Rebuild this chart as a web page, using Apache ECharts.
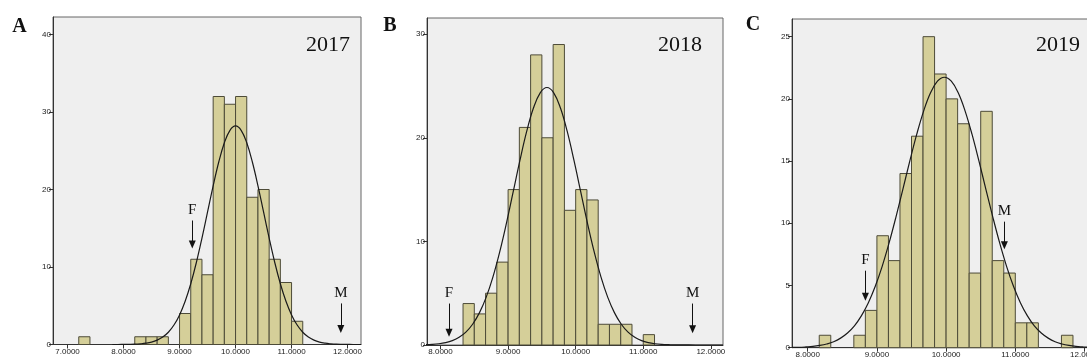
<!DOCTYPE html>
<html><head><meta charset="utf-8">
<script src="https://cdn.jsdelivr.net/npm/echarts@6/dist/echarts.min.js"></script>
<style>html,body{margin:0;padding:0;background:#fff}#c{width:1087px;height:363px}</style>
</head><body><div id="c"></div>
<script>
// ---- Data ----
// Histogram bins: first lower edge, bin width (x units), counts
const binStartA = 7.2, binWidthA = 0.2;
const countsA = [1,0,0,0,0,1,1,1,0,4,11,9,32,31,32,19,20,11,8,3];
const binStartB = 8 + 1/3, binWidthB = 1/6;
const countsB = [4,3,5,8,15,21,28,20,29,13,15,14,2,2,2,0,1];
const binStartC = 8 + 1/6, binWidthC = 1/6;
const countsC = [1,0,0,1,3,9,7,14,17,25,22,20,18,6,19,7,6,2,2,0,0,1];

// Fitted normal curves
const curveA = [[7.8,0],[7.9,0],[8.0,0.01],[8.1,0.02],[8.2,0.04],[8.3,0.09],[8.4,0.17],[8.5,0.31],[8.6,0.56],[8.7,0.96],[8.8,1.58],[8.9,2.51],[9.0,3.82],[9.1,5.58],[9.2,7.84],[9.3,10.58],[9.4,13.73],[9.5,17.10],[9.6,20.48],[9.7,23.55],[9.8,26.03],[9.9,27.64],[10.0,28.2],[10.1,27.64],[10.2,26.03],[10.3,23.55],[10.4,20.48],[10.5,17.10],[10.6,13.73],[10.7,10.58],[10.8,7.84],[10.9,5.58],[11.0,3.82],[11.1,2.51],[11.2,1.58],[11.3,0.96],[11.4,0.56],[11.5,0.31],[11.6,0.17],[11.7,0.09],[11.8,0.04],[11.9,0.02],[12.0,0.01],[12.1,0],[12.24,0]];
const curveB = [[7.775,0.03],[7.875,0.06],[7.975,0.12],[8.075,0.23],[8.175,0.42],[8.275,0.74],[8.375,1.24],[8.475,2.00],[8.575,3.10],[8.675,4.60],[8.775,6.55],[8.875,8.96],[8.975,11.74],[9.075,14.77],[9.175,17.81],[9.275,20.61],[9.375,22.87],[9.475,24.34],[9.575,24.85],[9.675,24.34],[9.775,22.87],[9.875,20.61],[9.975,17.81],[10.075,14.77],[10.175,11.74],[10.275,8.96],[10.375,6.55],[10.475,4.60],[10.575,3.10],[10.675,2.00],[10.775,1.24],[10.875,0.74],[10.975,0.42],[11.075,0.23],[11.175,0.12],[11.275,0.06],[11.375,0.03],[11.475,0.01],[11.575,0.01],[11.775,0],[12.18,0]];
const curveC = [[7.775,0.02],[7.875,0.03],[7.975,0.06],[8.075,0.10],[8.175,0.18],[8.275,0.30],[8.375,0.48],[8.475,0.77],[8.575,1.18],[8.675,1.76],[8.775,2.56],[8.875,3.60],[8.975,4.92],[9.075,6.52],[9.175,8.40],[9.275,10.50],[9.375,12.73],[9.475,14.99],[9.575,17.14],[9.675,19.02],[9.775,20.49],[9.875,21.42],[9.975,21.74],[10.075,21.42],[10.175,20.49],[10.275,19.02],[10.375,17.14],[10.475,14.99],[10.575,12.73],[10.675,10.50],[10.775,8.40],[10.875,6.52],[10.975,4.92],[11.075,3.60],[11.175,2.56],[11.275,1.76],[11.375,1.18],[11.475,0.77],[11.575,0.48],[11.675,0.30],[11.775,0.18],[11.875,0.10],[11.975,0.06],[12.075,0.03],[12.175,0.02]];

// Arrow markers: [label, x, arrow top (count units), arrow head (count units)]
const markersA = [['F', 9.227, 16.0, 12.9], ['M', 11.88, 5.3, 2.0]];
const markersB = [['F', 8.126, 4.0, 1.18], ['M', 11.73, 4.0, 1.52]];
const markersC = [['F', 8.834, 6.19, 4.1], ['M', 10.842, 10.13, 8.23]];

// Tick values
const xTicksA = [7, 8, 9, 10, 11, 12];
const xTicksB = [8, 9, 10, 11, 12];
const xTicksC = [8, 9, 10, 11, 12];
const yTicksA = [0, 10, 20, 30, 40];
const yTicksB = [0, 10, 20, 30];
const yTicksC = [0, 5, 10, 15, 20, 25];

const years = ['2017', '2018', '2019'];
const panelLetters = ['A', 'B', 'C'];

// ---- Build ----
function bins(start, width, counts) {
  const out = [];
  counts.forEach((c, i) => { if (c > 0) out.push([start + i * width, start + (i + 1) * width, c]); });
  return out;
}
const AXC = '#333';
function mkX(gi, min, max, ticks) {
  return {
    type: 'value', gridIndex: gi, min: min, max: max,
    splitLine: { show: false },
    axisLine: { show: true, onZero: false, lineStyle: { color: AXC, width: 1 } },
    axisTick: { show: true, customValues: ticks, length: 4, lineStyle: { color: AXC } },
    axisLabel: { customValues: ticks, formatter: v => v.toFixed(4), fontSize: 8, color: '#222',
      margin: 3, fontFamily: 'Liberation Sans', hideOverlap: false }
  };
}
function mkY(gi, max, ticks) {
  return {
    type: 'value', gridIndex: gi, min: 0, max: max,
    splitLine: { show: false },
    axisLine: { show: true, lineStyle: { color: AXC, width: 1 } },
    axisTick: { show: true, customValues: ticks, length: 4, lineStyle: { color: AXC } },
    axisLabel: { customValues: ticks, fontSize: 8, color: '#222', margin: 2, fontFamily: 'Liberation Sans' }
  };
}
function histSeries(gi, data) {
  return {
    type: 'custom', xAxisIndex: gi, yAxisIndex: gi, data: data,
    encode: { x: [0, 1], y: 2 },
    renderItem: function (params, api) {
      const p0 = api.coord([api.value(0), 0]);
      const p1 = api.coord([api.value(1), api.value(2)]);
      return { type: 'rect',
        shape: { x: p0[0], y: p1[1], width: p1[0] - p0[0], height: p0[1] - p1[1] },
        style: { fill: '#d5cf99', stroke: '#4d4b38', lineWidth: 1 } };
    },
    z: 2
  };
}
function curveSeries(gi, data, markers) {
  return {
    type: 'line', xAxisIndex: gi, yAxisIndex: gi, data: data, smooth: 0.4,
    showSymbol: false, symbol: 'none',
    lineStyle: { color: '#1a1a1a', width: 1.2 }, z: 3,
    markLine: {
      silent: true, animation: false,
      symbol: ['none', 'triangle'], symbolSize: [7, 8],
      lineStyle: { color: '#111', width: 1, type: 'solid' },
      label: { show: true, position: 'start', distance: 3, formatter: p => p.name,
        fontSize: 15, fontFamily: 'Liberation Serif', color: '#111' },
      data: markers.map(m => [{ name: m[0], coord: [m[1], m[2]] }, { coord: [m[1], m[3]] }])
    }
  };
}
const gridBase = { show: true, backgroundColor: '#efefef', borderColor: '#666', borderWidth: 1,
  containLabel: false, outerBoundsMode: 'none' };

const option = {
  animation: false,
  backgroundColor: '#ffffff',
  grid: [
    Object.assign({ left: 53, top: 17, width: 308, height: 327.5 }, gridBase),
    Object.assign({ left: 427, top: 18, width: 296, height: 327 }, gridBase),
    Object.assign({ left: 792, top: 19, width: 306, height: 328.7 }, gridBase)
  ],
  xAxis: [mkX(0, 6.74, 12.24, xTicksA), mkX(1, 7.80, 12.18, xTicksB), mkX(2, 7.773, 12.195, xTicksC)],
  yAxis: [mkY(0, 42.26, yTicksA), mkY(1, 31.56, yTicksB), mkY(2, 26.42, yTicksC)],
  series: [
    histSeries(0, bins(binStartA, binWidthA, countsA)),
    curveSeries(0, curveA, markersA),
    histSeries(1, bins(binStartB, binWidthB, countsB)),
    curveSeries(1, curveB, markersB),
    histSeries(2, bins(binStartC, binWidthC, countsC)),
    curveSeries(2, curveC, markersC)
  ],
  graphic: [
    { type: 'text', x: 306, y: 45, style: { text: years[0], font: '22px "Liberation Serif"', fill: '#111', verticalAlign: 'middle' } },
    { type: 'text', x: 658, y: 45, style: { text: years[1], font: '22px "Liberation Serif"', fill: '#111', verticalAlign: 'middle' } },
    { type: 'text', x: 1036, y: 45, style: { text: years[2], font: '22px "Liberation Serif"', fill: '#111', verticalAlign: 'middle' } },
    { type: 'text', x: 19.5, y: 26.5, style: { text: panelLetters[0], font: 'bold 20px "Liberation Serif"', fill: '#111', align: 'center', verticalAlign: 'middle' } },
    { type: 'text', x: 390, y: 26, style: { text: panelLetters[1], font: 'bold 20px "Liberation Serif"', fill: '#111', align: 'center', verticalAlign: 'middle' } },
    { type: 'text', x: 753, y: 25, style: { text: panelLetters[2], font: 'bold 20px "Liberation Serif"', fill: '#111', align: 'center', verticalAlign: 'middle' } }
  ]
};
const chart = echarts.init(document.getElementById('c'), null, { renderer: 'canvas' });
chart.setOption(option);
</script>
</body></html>
